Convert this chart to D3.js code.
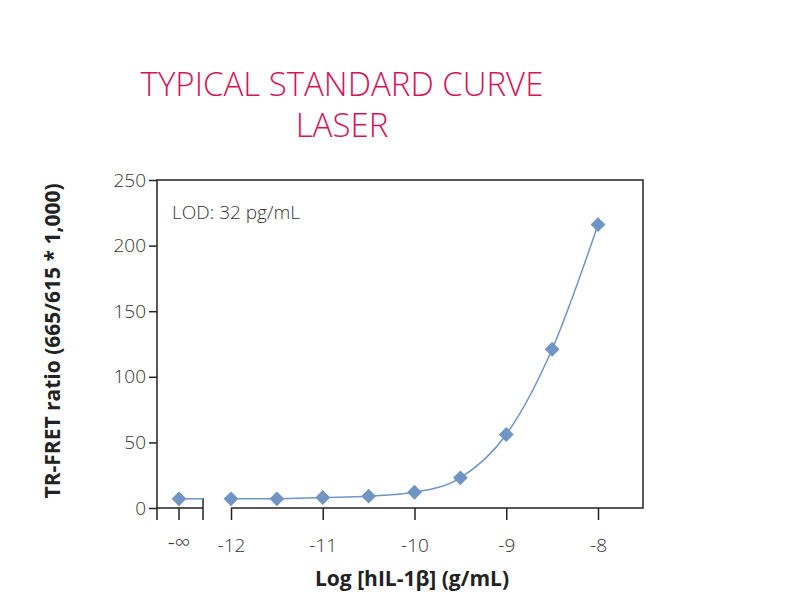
<!DOCTYPE html><html><head><script src="https://cdn.jsdelivr.net/npm/d3@7"></script>
<style>body{margin:0;background:#fff}text{font-family:"Open Sans",sans-serif}</style></head><body><svg id="c" width="800" height="600"></svg>
<script>
const xs=[-12,-11.5,-11,-10.5,-10,-9.5,-9,-8.5,-8];
const ys=[7,7,8,9,12,23,56,121,216];
const infVal=7;
const xTicks=[-12,-11,-10,-9,-8];
const yTicks=[0,50,100,150,200,250];
const svg=d3.select("#c");
const x=d3.scaleLinear().domain([-12,-8]).range([231,598]);
const xInf=179;
const y=d3.scaleLinear().domain([0,250]).range([508,180]);
const col="#7094c4";
svg.append("path").attr("d","M157,520V180H643V508H231M203,508H157").attr("fill","none").attr("stroke","#222").attr("stroke-width",1.5);
svg.append("g").attr("transform","translate(157,0)").call(d3.axisLeft(y).tickValues(yTicks).tickSize(8).tickSizeOuter(0)).call(g=>{g.select(".domain").remove();g.selectAll("line").attr("stroke","#222").attr("stroke-width",1.5);g.selectAll("text").attr("font-size",19).attr("fill","#333").style("font-family","Open Sans").style("font-weight",300);});
const xa=svg.append("g").attr("transform","translate(0,508)").call(d3.axisBottom(x).tickValues(xTicks).tickSize(12).tickSizeOuter(0).tickFormat(d=>String(d)));
xa.select(".domain").remove();xa.selectAll("line").attr("stroke","#222").attr("stroke-width",1.5);
xa.selectAll("text").attr("font-size",19).attr("fill","#333").attr("dy","1.5em").style("font-family","Open Sans").style("font-weight",300);
svg.append("line").attr("x1",xInf).attr("x2",xInf).attr("y1",508).attr("y2",520).attr("stroke","#222").attr("stroke-width",1.5);
svg.append("line").attr("x1",203).attr("x2",203).attr("y1",498).attr("y2",520).attr("stroke","#222").attr("stroke-width",1.5);
svg.append("text").attr("x",xInf).attr("y",550).attr("text-anchor","middle").attr("font-size",22).attr("fill","#333").style("font-weight",300).text("-∞");
svg.append("path").datum(xs.map((d,i)=>[x(d),y(ys[i])])).attr("d",d3.line().curve(d3.curveMonotoneX)).attr("fill","none").attr("stroke",col).attr("stroke-width",1.5);
svg.append("line").attr("x1",xInf).attr("x2",203).attr("y1",y(infVal)).attr("y2",y(infVal)).attr("stroke",col).attr("stroke-width",1.5);
const sym=d3.symbol().type(d3.symbolSquare).size(110);
const pts=xs.map((d,i)=>[x(d),y(ys[i])]).concat([[xInf,y(infVal)]]);
svg.selectAll(".p").data(pts).join("path").attr("d",sym).attr("transform",d=>`translate(${d[0]},${d[1]}) rotate(45)`).attr("fill",col);
svg.append("text").attr("x",172).attr("y",219).attr("font-size",19).attr("fill","#333").style("font-weight",300).text("LOD: 32 pg/mL");
const t=svg.append("text").attr("text-anchor","middle").attr("font-size",33).attr("fill","#d4145a").style("font-weight",300);
t.append("tspan").attr("x",342).attr("y",96).text("TYPICAL STANDARD CURVE");
t.append("tspan").attr("x",342).attr("y",137).text("LASER");
svg.append("text").attr("x",412).attr("y",586).attr("text-anchor","middle").attr("font-size",21).attr("font-weight","bold").attr("fill","#222").text("Log [hIL-1β] (g/mL)");
svg.append("text").attr("transform","translate(60,341) rotate(-90)").attr("text-anchor","middle").attr("font-size",21).attr("font-weight","bold").attr("fill","#222").text("TR-FRET ratio (665/615 * 1,000)");
</script></body></html>
